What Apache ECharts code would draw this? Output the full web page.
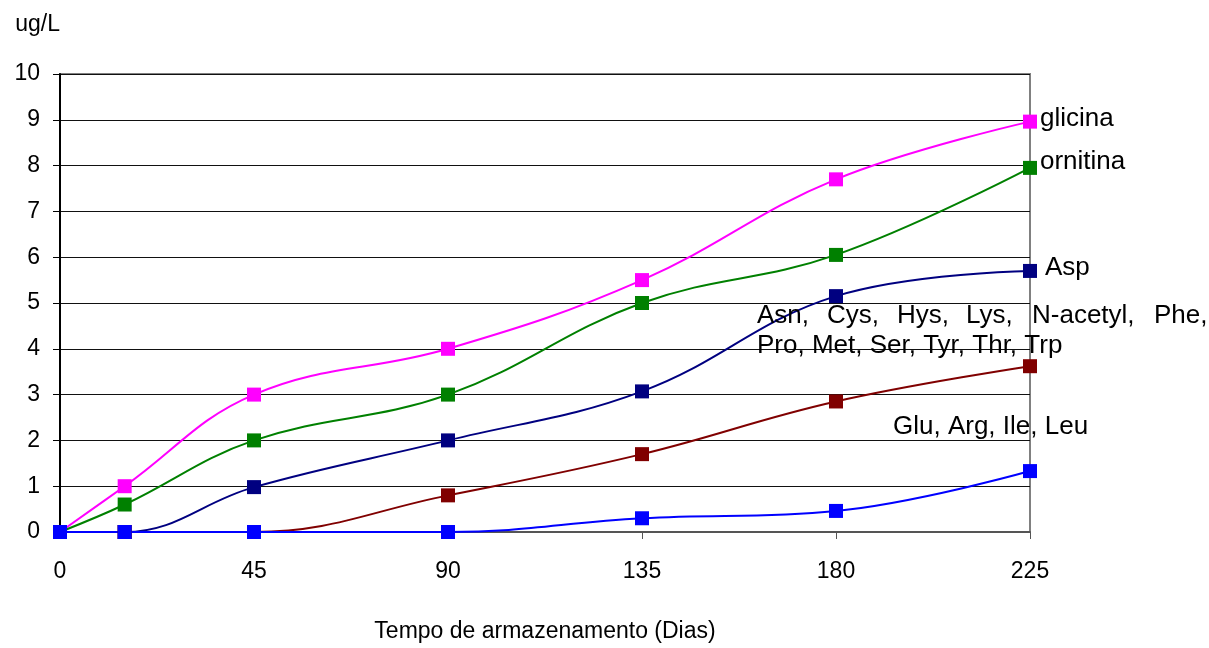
<!DOCTYPE html>
<html>
<head>
<meta charset="utf-8">
<script src="https://cdn.jsdelivr.net/npm/echarts@6/dist/echarts.min.js"></script>
<style>
  html, body { margin: 0; padding: 0; background: #fff; }
  #chart { width: 1209px; height: 648px; }
</style>
</head>
<body>
<div id="chart"></div>
<script>
// Storage time in days (x values of every series)
const days = [0, 15, 45, 90, 135, 180, 225];
const xTicks = [0, 45, 90, 135, 180, 225];
const yTicks = [0, 1, 2, 3, 4, 5, 6, 7, 8, 9, 10];

// Concentrations, ug/L
const glicina   = [0, 1.0, 3.0, 4.0, 5.5, 7.7, 8.96];
const ornitina  = [0, 0.6, 2.0, 3.0, 5.0, 6.05, 7.95];
const asp       = [0, 0, 0.98, 2.0, 3.07, 5.15, 5.7];
const asnGroup  = [0, 0, 0, 0.8, 1.7, 2.85, 3.62];
const gluGroup  = [0, 0, 0, 0, 0.3, 0.46, 1.33];

const seriesNames = ['glicina', 'ornitina', 'Asp',
  'Asn, Cys, Hys, Lys, N-acetyl, Phe, Pro, Met, Ser, Tyr, Thr, Trp',
  'Glu, Arg, Ile, Leu'];
const seriesValues = [glicina, ornitina, asp, asnGroup, gluGroup];
const seriesColors = ['#FF00FF', '#008000', '#000080', '#800000', '#0000FF'];

const FONT = 'Liberation Sans, Arial, sans-serif';
const LBL = 26;
const labelFont = { fontFamily: FONT, fontSize: LBL, color: '#000' };
const richBase = { fontFamily: FONT, fontSize: LBL, lineHeight: 30, color: '#000' };

// Label placement for the final point of each series
const endLabels = [
  { position: 'right', distance: 3, offset: [0, -3] },
  { position: 'right', distance: 3, offset: [0, -6] },
  { position: 'right', distance: 8, offset: [0, -3] },
  { position: 'inside', align: 'left', verticalAlign: 'middle', offset: [-273, -35], lineHeight: 30,
    formatter: '{w70|Asn,}{w70|Cys,}{w69|Hys,}{w66|Lys,}{w122|N-acetyl,}{t|Phe,}\n{t|Pro, Met, Ser, Tyr, Thr, Trp}',
    rich: {
      w70: Object.assign({ width: 70 }, richBase),
      w69: Object.assign({ width: 69 }, richBase),
      w66: Object.assign({ width: 66 }, richBase),
      w122: Object.assign({ width: 122 }, richBase),
      t: Object.assign({}, richBase)
    } },
  { position: 'inside', align: 'left', verticalAlign: 'middle', offset: [-137, -44] }
];

function buildData(vals, idx) {
  return days.map((d, i) => {
    if (i !== days.length - 1) return [d, vals[i]];
    const cfg = endLabels[idx];
    return {
      value: [d, vals[i]],
      label: Object.assign({ show: true, formatter: seriesNames[idx] }, labelFont, cfg)
    };
  });
}

const series = seriesValues.map((vals, idx) => ({
  name: seriesNames[idx],
  type: 'line',
  smooth: 0.4,
  symbol: 'rect',
  symbolSize: 14,
  showAllSymbol: true,
  lineStyle: { color: seriesColors[idx], width: 2 },
  itemStyle: { color: seriesColors[idx] },
  label: { show: false },
  emphasis: { disabled: true },
  animation: false,
  data: buildData(vals, idx)
}));

const chart = echarts.init(document.getElementById('chart'), null, { renderer: 'canvas' });
chart.setOption({
  backgroundColor: '#fff',
  animation: false,
  grid: {
    left: 60, right: 179, top: 74, bottom: 111,
    show: true, borderColor: '#808080', borderWidth: 2, backgroundColor: 'transparent'
  },
  xAxis: {
    type: 'value',
    min: xTicks[0], max: xTicks[xTicks.length - 1], interval: xTicks[1] - xTicks[0],
    name: 'Tempo de armazenamento (Dias)',
    nameLocation: 'middle', nameGap: 88,
    nameTextStyle: { fontFamily: FONT, fontSize: 23, color: '#000' },
    axisLine: { lineStyle: { color: '#555', width: 2 } },
    axisTick: { show: true, inside: false, length: 7, lineStyle: { color: '#555', width: 1 } },
    axisLabel: { fontFamily: FONT, fontSize: 23, color: '#000', margin: 28 },
    splitLine: { show: false }
  },
  yAxis: {
    type: 'value',
    min: yTicks[0], max: yTicks[yTicks.length - 1], interval: yTicks[1] - yTicks[0],
    name: 'ug/L',
    nameLocation: 'end', nameGap: 38,
    nameTextStyle: { fontFamily: FONT, fontSize: 23, color: '#000', align: 'right' },
    axisLine: { show: true, lineStyle: { color: '#000', width: 2 } },
    axisTick: { show: true, inside: false, length: 7, lineStyle: { color: '#000', width: 1 } },
    axisLabel: { fontFamily: FONT, fontSize: 23, color: '#000', margin: 20 },
    splitLine: { show: true, lineStyle: { color: '#111', width: 1 } }
  },
  series: series
});
</script>
</body>
</html>
